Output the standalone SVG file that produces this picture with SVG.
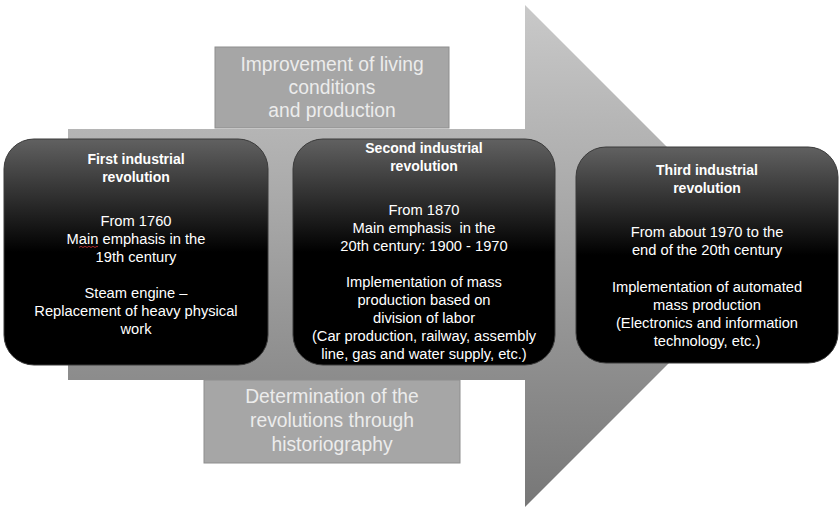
<svg xmlns="http://www.w3.org/2000/svg" width="839" height="508" viewBox="0 0 839 508">
<defs>
<linearGradient id="arrowGrad" gradientUnits="userSpaceOnUse" x1="0" y1="5" x2="0" y2="507">
<stop offset="0" stop-color="#c9c9c9"/>
<stop offset="1" stop-color="#777777"/>
</linearGradient>
<linearGradient id="boxGrad" x1="0" y1="0" x2="0" y2="1">
<stop offset="0" stop-color="#616161"/>
<stop offset="0.5" stop-color="#000000"/>
<stop offset="1" stop-color="#000000"/>
</linearGradient>
<style>
.gbox{fill:#a6a6a6;stroke:#8e8e8e;stroke-width:1}
.bbox{fill:url(#boxGrad);stroke:#3a3a3a;stroke-width:1}
.gt{font-family:"Liberation Sans",Arial,sans-serif;font-size:19.3px;fill:#ececec;text-anchor:middle}
.bt{font-family:"Liberation Sans",Arial,sans-serif;font-size:14.7px;fill:#ffffff;text-anchor:middle}
.bh{font-family:"Liberation Sans",Arial,sans-serif;font-size:14px;font-weight:bold;fill:#ffffff;text-anchor:middle}
</style>
</defs>
<rect width="839" height="508" fill="#ffffff"/>
<g id="arrow">
<path d="M68,129 H525 V5 L776,256 L525,507 V380 H68 Z" fill="url(#arrowGrad)"/>
</g>
<g id="top-box">
<rect class="gbox" x="215" y="47" width="234" height="81"/>
<text class="gt" x="332" y="71">Improvement of living</text>
<text class="gt" x="332" y="94">conditions</text>
<text class="gt" x="332" y="117">and production</text>
</g>
<g id="bottom-box">
<rect class="gbox" x="204" y="380" width="256" height="83"/>
<text class="gt" x="332" y="403">Determination of the</text>
<text class="gt" x="332" y="427">revolutions through</text>
<text class="gt" x="332" y="451">historiography</text>
</g>
<g id="first">
<rect class="bbox" x="4" y="139" width="264" height="226" rx="30" ry="30"/>
<text class="bh" x="136" y="164">First industrial</text>
<text class="bh" x="136" y="182">revolution</text>
<text class="bt" x="136" y="226">From 1760</text>
<text class="bt" x="136" y="244">Main emphasis in the</text>
<path d="M79,247.5 l2,-1.2 l2,1.2 l2,-1.2 l2,1.2 l2,-1.2 l2,1.2 l2,-1.2 l2,1.2 l2,-1.2 l1,0.6" fill="none" stroke="#d03030" stroke-width="0.8"/>
<text class="bt" x="136" y="262">19th century</text>
<text class="bt" x="136" y="298">Steam engine –</text>
<text class="bt" x="136" y="316">Replacement of heavy physical</text>
<text class="bt" x="136" y="334">work</text>
</g>
<g id="second">
<rect class="bbox" x="293" y="139" width="262" height="226" rx="30" ry="30"/>
<text class="bh" x="424" y="153">Second industrial</text>
<text class="bh" x="424" y="171">revolution</text>
<text class="bt" x="424" y="215">From 1870</text>
<text class="bt" x="424" y="233" xml:space="preserve">Main emphasis  in the</text>
<text class="bt" x="424" y="251">20th century: 1900 - 1970</text>
<text class="bt" x="424" y="287">Implementation of mass</text>
<text class="bt" x="424" y="305">production based on</text>
<text class="bt" x="424" y="323">division of labor</text>
<text class="bt" x="424" y="341">(Car production, railway, assembly</text>
<text class="bt" x="424" y="359">line, gas and water supply, etc.)</text>
</g>
<g id="third">
<rect class="bbox" x="576" y="147" width="262" height="216" rx="30" ry="30"/>
<text class="bh" x="707" y="175">Third industrial</text>
<text class="bh" x="707" y="193">revolution</text>
<text class="bt" x="707" y="237">From about 1970 to the</text>
<text class="bt" x="707" y="255">end of the 20th century</text>
<text class="bt" x="707" y="292">Implementation of automated</text>
<text class="bt" x="707" y="310">mass production</text>
<text class="bt" x="707" y="328">(Electronics and information</text>
<text class="bt" x="707" y="346">technology, etc.)</text>
</g>
<g id="connectors"></g>
</svg>
